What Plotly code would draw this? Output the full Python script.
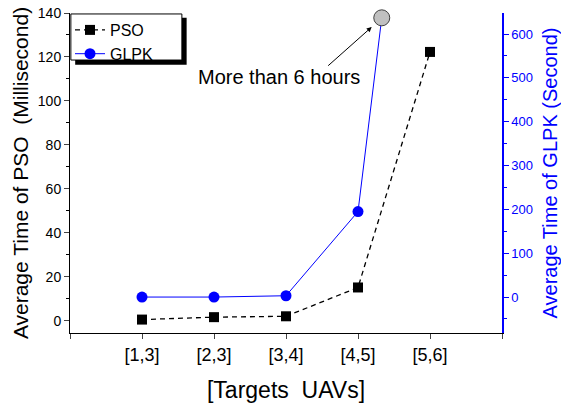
import plotly.graph_objects as go

categories = ["[1,3]", "[2,3]", "[3,4]", "[4,5]", "[5,6]"]
cat_pos = [0, 1, 2, 3, 4]
pso_ms = [0.6, 1.7, 2.1, 15.2, 122.3]
glpk_pos = [0, 1, 2, 3]
glpk_s = [0, 0, 3, 195]
glpk_over_pos = 3.33          # the "more than 6 hours" point
glpk_over_val = 637

FONT = "Arial, Liberation Sans, sans-serif"
BLUE = "#0000ff"

fig = go.Figure()
fig.add_trace(go.Scatter(
    x=cat_pos, y=pso_ms, name="PSO", mode="lines+markers",
    line=dict(color="black", width=1.3, dash="5px,4px"),
    marker=dict(symbol="square", size=10, color="black"),
))
fig.add_trace(go.Scatter(
    x=glpk_pos, y=glpk_s, name="GLPK", mode="lines+markers", yaxis="y2",
    line=dict(color=BLUE, width=1), marker=dict(symbol="circle", size=11, color=BLUE),
))
fig.add_trace(go.Scatter(
    x=[glpk_pos[-1], glpk_over_pos], y=[glpk_s[-1], glpk_over_val], mode="lines",
    yaxis="y2", showlegend=False, line=dict(color=BLUE, width=1), cliponaxis=False,
))
fig.add_trace(go.Scatter(
    x=[glpk_over_pos], y=[glpk_over_val], mode="markers", yaxis="y2", showlegend=False,
    marker=dict(symbol="circle", size=16, color="#c0c0c0", line=dict(color="#404040", width=1)),
    cliponaxis=False,
))

# legend box and shadow
fig.add_shape(type="rect", xref="paper", yref="paper", x0=0.012, x1=0.27, y0=0.838, y1=0.985,
              fillcolor="black", line=dict(width=0), layer="above")
fig.add_shape(type="rect", xref="paper", yref="paper", x0=0.002, x1=0.259, y0=0.853, y1=0.997,
              fillcolor="white", line=dict(color="black", width=1), layer="above")

# annotation
fig.add_annotation(x=3.19, y=616, yref="y2", ax=-45, ay=40,
                   text="", showarrow=True, arrowhead=2, arrowsize=1, arrowwidth=1,
                   arrowcolor="black")
fig.add_annotation(x=1.9, y=502, yref="y2", text="More than 6 hours", showarrow=False,
                   font=dict(family=FONT, size=20, color="black"), xanchor="center")

fig.update_layout(
    width=561, height=406, margin=dict(l=70, r=59, t=13, b=73, autoexpand=False),
    paper_bgcolor="white", plot_bgcolor="white",
    font=dict(family=FONT, color="black"),
    showlegend=True,
    legend=dict(x=0.0, y=1.0, xanchor="left", yanchor="top", bgcolor="rgba(0,0,0,0)",
                borderwidth=0, font=dict(family=FONT, size=16), tracegroupgap=0,
                itemwidth=30),
    xaxis=dict(range=[-1, 5], tickmode="array", tickvals=[-1] + cat_pos + [5], automargin=False,
               ticktext=[""] + categories + [""], ticks="outside", ticklen=5,
               showline=True, linecolor="black", linewidth=1, showgrid=False, zeroline=False,
               tickfont=dict(size=18), title=dict(text="[Targets  UAVs]", font=dict(size=23), standoff=18)),
    xaxis2=dict(range=[-1, 5], overlaying="x", side="top", tickmode="array", automargin=False,
                tickvals=[-1] + cat_pos + [5], showticklabels=False, ticks="inside", ticklen=4,
                showline=True, linecolor="black", linewidth=1, showgrid=False, zeroline=False),
    yaxis=dict(range=[-5.5, 140], tickmode="linear", tick0=0, dtick=20, ticks="outside", ticklen=5,
               automargin=False,
               minor=dict(ticks="outside", ticklen=3, dtick=10, tick0=0, tickcolor="black"),
               showline=True, linecolor="black", linewidth=1, showgrid=False, zeroline=False,
               tickfont=dict(size=14),
               title=dict(text="Average Time of PSO  (Millisecond)", font=dict(size=21), standoff=3)),
    yaxis2=dict(range=[-82, 648], overlaying="y", side="right", tickmode="linear", tick0=0, dtick=100,
                automargin=False,
                ticks="outside", ticklen=5, tickcolor=BLUE,
                minor=dict(ticks="outside", ticklen=3, dtick=50, tick0=0, tickcolor=BLUE),
                showline=True, linecolor=BLUE, linewidth=1.5, showgrid=False, zeroline=False,
                tickfont=dict(size=13, color=BLUE),
                title=dict(text="Average Time of GLPK (Second)", font=dict(size=20, color=BLUE), standoff=19)),
)

fig.write_html("out.html")
